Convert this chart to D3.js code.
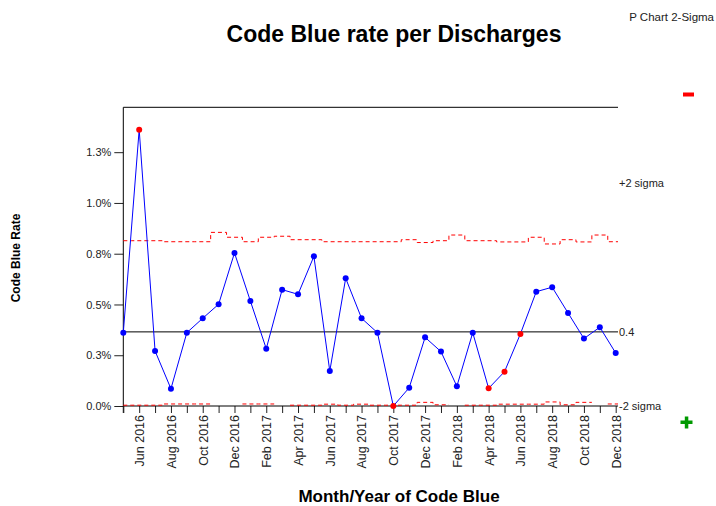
<!DOCTYPE html>
<html lang="en">
  <head>
    <meta charset="utf-8">
    <title>Code Blue rate per Discharges</title>
    <script src="https://cdn.jsdelivr.net/npm/d3@7"></script>
    <style>
      body { margin: 0; background: #fff; }
      svg { display: block; font-family: Arial, "Liberation Sans", sans-serif; }
    </style>
  </head>
  <body>
    <svg></svg>
    <script>
    // data (percent)
    var months = ["May 2016","Jun 2016","Jul 2016","Aug 2016","Sep 2016","Oct 2016","Nov 2016","Dec 2016",
      "Jan 2017","Feb 2017","Mar 2017","Apr 2017","May 2017","Jun 2017","Jul 2017","Aug 2017","Sep 2017","Oct 2017","Nov 2017","Dec 2017",
      "Jan 2018","Feb 2018","Mar 2018","Apr 2018","May 2018","Jun 2018","Jul 2018","Aug 2018","Sep 2018","Oct 2018","Nov 2018","Dec 2018"];
    var rate = [0.361,1.361,0.271,0.085,0.361,0.432,0.501,0.754,
      0.517,0.282,0.573,0.550,0.737,0.172,0.629,0.432,0.361,0.0,0.090,0.338,
      0.268,0.097,0.361,0.087,0.169,0.355,0.563,0.585,0.458,0.332,0.388,0.261];
    var ucl = [0.814,0.814,0.814,0.809,0.809,0.809,0.855,0.831,
      0.809,0.831,0.836,0.819,0.819,0.809,0.809,0.809,0.809,0.809,0.819,0.805,
      0.814,0.842,0.814,0.814,0.808,0.808,0.831,0.798,0.819,0.808,0.842,0.809];
    var lcl = [0.004,0.004,0.004,0.01,0.01,0.01,null,null,
      0.01,0.01,null,0.004,0.004,0.009,0.004,0.009,0.004,0.004,0.004,0.018,
      0.006,null,0.004,0.004,0.009,0.009,0.009,0.02,0.006,0.018,null,0.01];
    var signal = [0,1,0,0,0,0,0,0, 0,0,0,0,0,0,0,0,0,1,0,0, 0,0,0,1,1,1,0,0,0,0,0,0];
    var center = 0.365;
    var centerLabel = "0.4";
    var yTicks = [0, 0.25, 0.5, 0.75, 1.0, 1.25];
    var yTickLabels = ["0.0%","0.3%","0.5%","0.8%","1.0%","1.3%"];

    var width = 716, height = 506;
    var svg = d3.select("svg").attr("width", width).attr("height", height);

    var pLeft = 123.3, pRight = 618, pTop = 107.3, pBottom = 406;
    var x = d3.scaleLinear().domain([0, months.length-1]).range([pLeft, 615.7]);
    var y = d3.scaleLinear().domain([0, 1.471]).range([pBottom, pTop]);
    var half = (x(1)-x(0))/2;

    // title
    svg.append("text").attr("x", 394).attr("y", 42)
      .attr("text-anchor", "middle").attr("font-size", 23).attr("font-weight", "bold")
      .text("Code Blue rate per Discharges");
    svg.append("text").attr("x", 714).attr("y", 21)
      .attr("text-anchor", "end").attr("font-size", 11.5).attr("fill", "#222")
      .text("P Chart 2-Sigma");

    // frame
    svg.append("line").attr("x1", pLeft).attr("x2", pRight).attr("y1", pTop).attr("y2", pTop)
      .attr("stroke", "#000");

    // y axis
    var yAxis = d3.axisLeft(y).tickValues(yTicks).tickSize(9).tickPadding(3)
      .tickFormat(function(d, i){ return yTickLabels[i]; });
    var gy = svg.append("g").attr("transform", "translate(" + pLeft + ",0)").call(yAxis);
    gy.select(".domain").remove();
    gy.selectAll("text").attr("font-size", 11).attr("fill", "#222").attr("font-family", null);
    gy.selectAll("line").attr("stroke", "#222");
    svg.append("line").attr("x1", pLeft).attr("x2", pLeft).attr("y1", pTop).attr("y2", pBottom+7)
      .attr("stroke", "#000");

    // x axis
    var xAxis = d3.axisBottom(x).tickValues(d3.range(months.length)).tickSize(7).tickSizeOuter(0)
      .tickFormat(function(d){ return d % 2 == 1 ? months[d] : ""; });
    var gx = svg.append("g").attr("transform", "translate(0," + pBottom + ")").call(xAxis);
    gx.select(".domain").remove();
    gx.selectAll("line").attr("stroke", "#222");
    gx.selectAll("text").attr("font-size", 12.5).attr("fill", "#222").attr("font-family", null)
      .attr("transform", "rotate(-90)").attr("text-anchor", "end")
      .attr("x", -9).attr("y", 0).attr("dy", "0.35em");
    svg.append("line").attr("x1", pLeft).attr("x2", pRight).attr("y1", pBottom).attr("y2", pBottom)
      .attr("stroke", "#000");

    // axis titles
    svg.append("text").attr("transform", "translate(20,258) rotate(-90)")
      .attr("text-anchor", "middle").attr("font-size", 12).attr("font-weight", "bold")
      .text("Code Blue Rate");
    svg.append("text").attr("x", 399).attr("y", 502)
      .attr("text-anchor", "middle").attr("font-size", 17).attr("font-weight", "bold")
      .text("Month/Year of Code Blue");

    // step limit path (each month its own flat piece)
    function stepPath(vals){
      var p = "", open = false;
      vals.forEach(function(v, i){
        if (v == null) { open = false; return; }
        var x0 = Math.max(x(i)-half, pLeft), x1 = Math.min(x(i)+half, pRight);
        if (!open) { p += "M" + x0 + "," + y(v); open = true; }
        else { p += "V" + y(v); }
        p += "H" + x1;
      });
      return p;
    }
    svg.append("path").attr("d", stepPath(ucl)).attr("fill", "none")
      .attr("stroke", "#ff0000").attr("stroke-dasharray", "4,3");
    svg.append("path").attr("d", stepPath(lcl)).attr("fill", "none")
      .attr("stroke", "#ff0000").attr("stroke-dasharray", "4,3");

    // center line
    svg.append("line").attr("x1", pLeft).attr("x2", pRight).attr("y1", y(center)).attr("y2", y(center))
      .attr("stroke", "#000");

    // right labels
    svg.append("text").attr("x", 619).attr("y", y(center)).attr("dy", "0.35em")
      .attr("font-size", 11).attr("fill", "#222").text(centerLabel);
    svg.append("text").attr("x", 619).attr("y", 183).attr("dy", "0.35em")
      .attr("font-size", 11).attr("fill", "#222").text("+2 sigma");
    svg.append("text").attr("x", 619).attr("y", pBottom).attr("dy", "0.35em")
      .attr("font-size", 11).attr("fill", "#222").text("-2 sigma");

    // data line + points
    var line = d3.line().x(function(d, i){ return x(i); }).y(function(d){ return y(d); });
    svg.append("path").datum(rate).attr("d", line).attr("fill", "none")
      .attr("stroke", "#0000ff").attr("stroke-width", 1);
    svg.selectAll("circle.pt").data(rate).enter().append("circle")
      .attr("class", "pt")
      .attr("cx", function(d, i){ return x(i); })
      .attr("cy", function(d){ return y(d); })
      .attr("r", 3)
      .attr("fill", function(d, i){ return signal[i] ? "#ff0000" : "#0000ff"; });

    // minus / plus markers
    svg.append("rect").attr("x", 683).attr("y", 92.5).attr("width", 11).attr("height", 4)
      .attr("fill", "#ff0000");
    svg.append("rect").attr("x", 680.5).attr("y", 420.5).attr("width", 12).attr("height", 3.5)
      .attr("fill", "#009900");
    svg.append("rect").attr("x", 684.8).attr("y", 416.5).attr("width", 3.5).attr("height", 12)
      .attr("fill", "#009900");
    </script>
  </body>
</html>
